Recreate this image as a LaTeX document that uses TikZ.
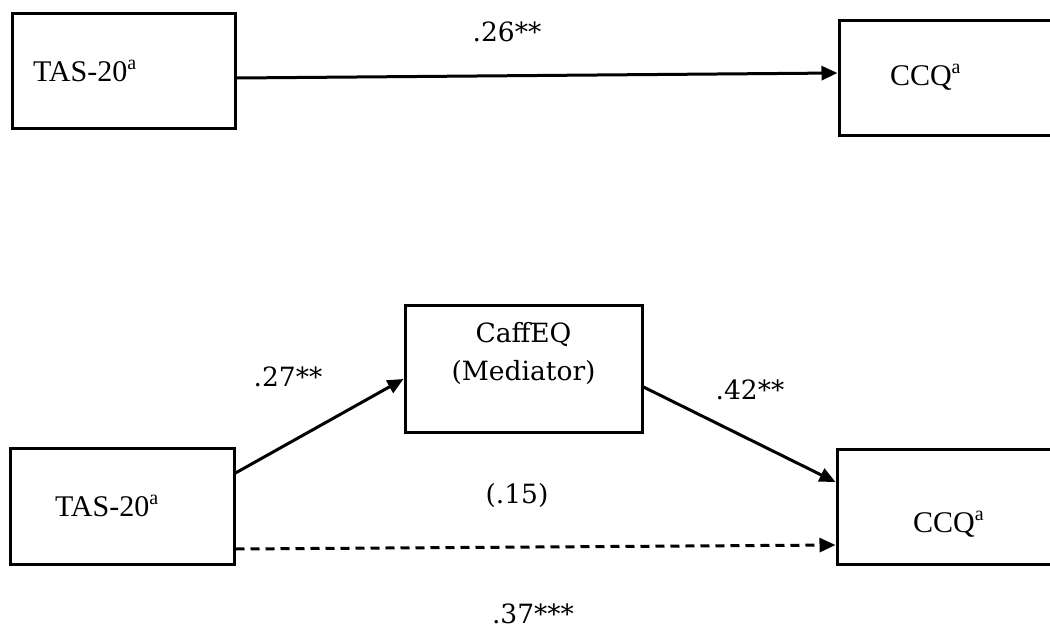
\documentclass[tikz,border=0pt]{standalone}
\usepackage{fontspec}
\setmainfont{Liberation Serif}
\newfontfamily\coefffont{DejaVu Serif}
\usetikzlibrary{arrows.meta,positioning}
\newcommand\supa{\raisebox{0.4em}{\fontsize{20}{20}\selectfont a}}
\tikzset
{
    varbox/.style = {rectangle, draw=black, line width=3pt, inner sep=0pt, font=\fontsize{30}{36}\selectfont},
    coeff/.style  = {inner sep=0pt, font=\coefffont\fontsize{26.5}{38}\selectfont}
}

\begin{document}
\begin{tikzpicture}[x=1pt, y=-1pt, ->, >={Triangle[length=16pt,width=14pt]}, line width=3pt]
    \useasboundingbox (0,0) rectangle (1050,629);
    % total effect
    \node [varbox, minimum width=223pt, minimum height=115pt, text width=181pt, inner xsep=21pt, align=left] (tas1) at (123.5,70.5) {TAS-20\supa};
    \node [varbox, minimum width=223pt, minimum height=115pt, text width=121pt, inner xsep=51pt, align=left] (ccq1) at (950.5,77.5) {CCQ\supa};
    \node [coeff] (c1) at (507,32) {.26**};
    \draw ([yshift=-7.5pt]tas1.east) -- ([yshift=4.5pt]ccq1.west);

    % mediated model
    \node [varbox, minimum width=224pt, minimum height=116pt, text width=134pt, inner xsep=45pt, align=left] (tas2) at (122,506) {TAS-20\supa};
    \node [varbox, coeff, draw=black, line width=3pt, minimum width=237pt, minimum height=127pt, text width=237pt, align=center, text depth=73pt] (med) at (523.5,368.5) {CaffEQ\\(Mediator)};
    \node [varbox, minimum width=223pt, minimum height=115pt, text height=56pt, text depth=5pt] (ccq2) at (948.5,506.5) {CCQ\supa};
    \node [coeff] (a) at (288,377) {.27**};
    \node [coeff] (b) at (750,390) {.42**};
    \node [coeff] (cp) at (517,495) {(.15)};
    \node [coeff] (c2) at (533,614) {.37***};
    \draw ([yshift=33pt]tas2.east) -- ([yshift=-10.5pt]med.west);
    \draw ([yshift=-18.5pt]med.east) -- ([yshift=24.5pt]ccq2.west);
    \draw [dash pattern=on 9pt off 6pt] ([yshift=-43pt]tas2.east) -- ([yshift=-38.5pt]ccq2.west);
\end{tikzpicture}
\end{document}
